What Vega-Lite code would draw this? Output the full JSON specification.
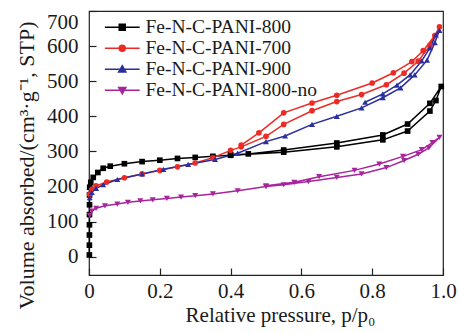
{
  "$schema": "https://vega.github.io/schema/vega-lite/v6.json",
  "width": 354,
  "height": 264,
  "autosize": "none",
  "padding": {"left": 89, "top": 11, "right": 16, "bottom": 58},
  "config": {
    "font": "Liberation Serif",
    "view": {"stroke": "#222222", "strokeWidth": 1.2},
    "axis": {
      "domain": false, "grid": false, "tickSize": -7, "tickColor": "#222222", "tickWidth": 1.2,
      "labelFontSize": 21, "titleFontSize": 21, "titleFontWeight": "normal",
      "labelColor": "#1a1a1a", "titleColor": "#1a1a1a", "labelFont": "Liberation Serif", "titleFont": "Liberation Serif"
    },
    "legend": {"labelFont": "Liberation Serif"}
  },
  "data": {"values": [
    {"s":"Fe-N-C-PANI-800","i":1,"p":0.0010,"v":5},
    {"s":"Fe-N-C-PANI-800","i":2,"p":0.0011,"v":33},
    {"s":"Fe-N-C-PANI-800","i":3,"p":0.0012,"v":62},
    {"s":"Fe-N-C-PANI-800","i":4,"p":0.0013,"v":91},
    {"s":"Fe-N-C-PANI-800","i":5,"p":0.0014,"v":120},
    {"s":"Fe-N-C-PANI-800","i":6,"p":0.0015,"v":148},
    {"s":"Fe-N-C-PANI-800","i":7,"p":0.0016,"v":176},
    {"s":"Fe-N-C-PANI-800","i":8,"p":0.002,"v":198},
    {"s":"Fe-N-C-PANI-800","i":9,"p":0.005,"v":212},
    {"s":"Fe-N-C-PANI-800","i":10,"p":0.012,"v":226},
    {"s":"Fe-N-C-PANI-800","i":11,"p":0.025,"v":240},
    {"s":"Fe-N-C-PANI-800","i":12,"p":0.04,"v":252},
    {"s":"Fe-N-C-PANI-800","i":13,"p":0.06,"v":258},
    {"s":"Fe-N-C-PANI-800","i":14,"p":0.1,"v":265},
    {"s":"Fe-N-C-PANI-800","i":15,"p":0.15,"v":271},
    {"s":"Fe-N-C-PANI-800","i":16,"p":0.2,"v":275},
    {"s":"Fe-N-C-PANI-800","i":17,"p":0.25,"v":280},
    {"s":"Fe-N-C-PANI-800","i":18,"p":0.3,"v":283},
    {"s":"Fe-N-C-PANI-800","i":19,"p":0.35,"v":286},
    {"s":"Fe-N-C-PANI-800","i":20,"p":0.4,"v":289},
    {"s":"Fe-N-C-PANI-800","i":21,"p":0.55,"v":298},
    {"s":"Fe-N-C-PANI-800","i":22,"p":0.7,"v":313},
    {"s":"Fe-N-C-PANI-800","i":23,"p":0.83,"v":333},
    {"s":"Fe-N-C-PANI-800","i":24,"p":0.9,"v":358},
    {"s":"Fe-N-C-PANI-800","i":25,"p":0.963,"v":415},
    {"s":"Fe-N-C-PANI-800","i":26,"p":0.98,"v":445},
    {"s":"Fe-N-C-PANI-800","i":27,"p":0.995,"v":485},
    {"s":"Fe-N-C-PANI-800","i":28,"p":0.963,"v":437},
    {"s":"Fe-N-C-PANI-800","i":29,"p":0.9,"v":378},
    {"s":"Fe-N-C-PANI-800","i":30,"p":0.83,"v":347},
    {"s":"Fe-N-C-PANI-800","i":31,"p":0.7,"v":324},
    {"s":"Fe-N-C-PANI-800","i":32,"p":0.55,"v":304},
    {"s":"Fe-N-C-PANI-800","i":33,"p":0.45,"v":293},
    {"s":"Fe-N-C-PANI-800","i":34,"p":0.4,"v":290},

    {"s":"Fe-N-C-PANI-700","i":1,"p":0.002,"v":178},
    {"s":"Fe-N-C-PANI-700","i":2,"p":0.008,"v":192},
    {"s":"Fe-N-C-PANI-700","i":3,"p":0.02,"v":202},
    {"s":"Fe-N-C-PANI-700","i":4,"p":0.05,"v":213},
    {"s":"Fe-N-C-PANI-700","i":5,"p":0.1,"v":225},
    {"s":"Fe-N-C-PANI-700","i":6,"p":0.15,"v":236},
    {"s":"Fe-N-C-PANI-700","i":7,"p":0.2,"v":246},
    {"s":"Fe-N-C-PANI-700","i":8,"p":0.25,"v":256},
    {"s":"Fe-N-C-PANI-700","i":9,"p":0.3,"v":267},
    {"s":"Fe-N-C-PANI-700","i":10,"p":0.35,"v":282},
    {"s":"Fe-N-C-PANI-700","i":11,"p":0.4,"v":303},
    {"s":"Fe-N-C-PANI-700","i":12,"p":0.43,"v":313},
    {"s":"Fe-N-C-PANI-700","i":13,"p":0.5,"v":343},
    {"s":"Fe-N-C-PANI-700","i":14,"p":0.55,"v":377},
    {"s":"Fe-N-C-PANI-700","i":15,"p":0.63,"v":416},
    {"s":"Fe-N-C-PANI-700","i":16,"p":0.7,"v":442},
    {"s":"Fe-N-C-PANI-700","i":17,"p":0.77,"v":462},
    {"s":"Fe-N-C-PANI-700","i":18,"p":0.84,"v":490},
    {"s":"Fe-N-C-PANI-700","i":19,"p":0.89,"v":523},
    {"s":"Fe-N-C-PANI-700","i":20,"p":0.93,"v":557},
    {"s":"Fe-N-C-PANI-700","i":21,"p":0.963,"v":602},
    {"s":"Fe-N-C-PANI-700","i":22,"p":0.99,"v":655},
    {"s":"Fe-N-C-PANI-700","i":23,"p":0.977,"v":630},
    {"s":"Fe-N-C-PANI-700","i":24,"p":0.944,"v":587},
    {"s":"Fe-N-C-PANI-700","i":25,"p":0.912,"v":556},
    {"s":"Fe-N-C-PANI-700","i":26,"p":0.86,"v":524},
    {"s":"Fe-N-C-PANI-700","i":27,"p":0.8,"v":495},
    {"s":"Fe-N-C-PANI-700","i":28,"p":0.7,"v":460},
    {"s":"Fe-N-C-PANI-700","i":29,"p":0.63,"v":438},
    {"s":"Fe-N-C-PANI-700","i":30,"p":0.55,"v":410},
    {"s":"Fe-N-C-PANI-700","i":31,"p":0.48,"v":353},
    {"s":"Fe-N-C-PANI-700","i":32,"p":0.43,"v":318},

    {"s":"Fe-N-C-PANI-900","i":1,"p":0.002,"v":168},
    {"s":"Fe-N-C-PANI-900","i":2,"p":0.008,"v":183},
    {"s":"Fe-N-C-PANI-900","i":3,"p":0.02,"v":195},
    {"s":"Fe-N-C-PANI-900","i":4,"p":0.04,"v":205},
    {"s":"Fe-N-C-PANI-900","i":5,"p":0.08,"v":220},
    {"s":"Fe-N-C-PANI-900","i":6,"p":0.15,"v":236},
    {"s":"Fe-N-C-PANI-900","i":7,"p":0.21,"v":249},
    {"s":"Fe-N-C-PANI-900","i":8,"p":0.28,"v":263},
    {"s":"Fe-N-C-PANI-900","i":9,"p":0.356,"v":277},
    {"s":"Fe-N-C-PANI-900","i":10,"p":0.42,"v":295},
    {"s":"Fe-N-C-PANI-900","i":11,"p":0.5,"v":328},
    {"s":"Fe-N-C-PANI-900","i":12,"p":0.554,"v":344},
    {"s":"Fe-N-C-PANI-900","i":13,"p":0.63,"v":377},
    {"s":"Fe-N-C-PANI-900","i":14,"p":0.7,"v":400},
    {"s":"Fe-N-C-PANI-900","i":15,"p":0.77,"v":424},
    {"s":"Fe-N-C-PANI-900","i":16,"p":0.83,"v":453},
    {"s":"Fe-N-C-PANI-900","i":17,"p":0.88,"v":481},
    {"s":"Fe-N-C-PANI-900","i":18,"p":0.92,"v":518},
    {"s":"Fe-N-C-PANI-900","i":19,"p":0.955,"v":560},
    {"s":"Fe-N-C-PANI-900","i":20,"p":0.977,"v":610},
    {"s":"Fe-N-C-PANI-900","i":21,"p":0.99,"v":645},
    {"s":"Fe-N-C-PANI-900","i":22,"p":0.98,"v":632},
    {"s":"Fe-N-C-PANI-900","i":23,"p":0.963,"v":595},
    {"s":"Fe-N-C-PANI-900","i":24,"p":0.94,"v":558},
    {"s":"Fe-N-C-PANI-900","i":25,"p":0.907,"v":518},
    {"s":"Fe-N-C-PANI-900","i":26,"p":0.87,"v":489},
    {"s":"Fe-N-C-PANI-900","i":27,"p":0.83,"v":464},
    {"s":"Fe-N-C-PANI-900","i":28,"p":0.78,"v":440},

    {"s":"Fe-N-C-PANI-800-no","i":1,"p":0.002,"v":118},
    {"s":"Fe-N-C-PANI-800-no","i":2,"p":0.008,"v":130},
    {"s":"Fe-N-C-PANI-800-no","i":3,"p":0.02,"v":138},
    {"s":"Fe-N-C-PANI-800-no","i":4,"p":0.045,"v":145},
    {"s":"Fe-N-C-PANI-800-no","i":5,"p":0.08,"v":150},
    {"s":"Fe-N-C-PANI-800-no","i":6,"p":0.11,"v":155},
    {"s":"Fe-N-C-PANI-800-no","i":7,"p":0.145,"v":159},
    {"s":"Fe-N-C-PANI-800-no","i":8,"p":0.18,"v":162},
    {"s":"Fe-N-C-PANI-800-no","i":9,"p":0.22,"v":166},
    {"s":"Fe-N-C-PANI-800-no","i":10,"p":0.26,"v":170},
    {"s":"Fe-N-C-PANI-800-no","i":11,"p":0.3,"v":174},
    {"s":"Fe-N-C-PANI-800-no","i":12,"p":0.35,"v":179},
    {"s":"Fe-N-C-PANI-800-no","i":13,"p":0.42,"v":188},
    {"s":"Fe-N-C-PANI-800-no","i":14,"p":0.5,"v":200},
    {"s":"Fe-N-C-PANI-800-no","i":15,"p":0.55,"v":205},
    {"s":"Fe-N-C-PANI-800-no","i":16,"p":0.62,"v":214},
    {"s":"Fe-N-C-PANI-800-no","i":17,"p":0.7,"v":226},
    {"s":"Fe-N-C-PANI-800-no","i":18,"p":0.77,"v":236},
    {"s":"Fe-N-C-PANI-800-no","i":19,"p":0.84,"v":254},
    {"s":"Fe-N-C-PANI-800-no","i":20,"p":0.89,"v":274},
    {"s":"Fe-N-C-PANI-800-no","i":21,"p":0.93,"v":292},
    {"s":"Fe-N-C-PANI-800-no","i":22,"p":0.96,"v":310},
    {"s":"Fe-N-C-PANI-800-no","i":23,"p":0.99,"v":340},
    {"s":"Fe-N-C-PANI-800-no","i":24,"p":0.97,"v":325},
    {"s":"Fe-N-C-PANI-800-no","i":25,"p":0.94,"v":305},
    {"s":"Fe-N-C-PANI-800-no","i":26,"p":0.887,"v":286},
    {"s":"Fe-N-C-PANI-800-no","i":27,"p":0.82,"v":264},
    {"s":"Fe-N-C-PANI-800-no","i":28,"p":0.75,"v":246},
    {"s":"Fe-N-C-PANI-800-no","i":29,"p":0.65,"v":228},
    {"s":"Fe-N-C-PANI-800-no","i":30,"p":0.58,"v":212},
    {"s":"Fe-N-C-PANI-800-no","i":31,"p":0.5,"v":202}
  ]},
  "encoding": {
    "x": {"field": "p", "type": "quantitative",
      "scale": {"domain": [0, 1], "nice": false, "zero": false},
      "axis": {"title": "Relative pressure, p/p₀", "values": [0, 0.2, 0.4, 0.6, 0.8, 1],
        "labelExpr": "datum.value == 0 ? '0' : format(datum.value, '.1f')",
        "labelPadding": 12, "labelFlush": false,
        "titleX": 191, "titleY": 46, "titleBaseline": "alphabetic"}},
    "y": {"field": "v", "type": "quantitative",
      "scale": {"domain": [-52, 700], "nice": false, "zero": false},
      "axis": {"title": "Volume absorbed/(cm³·g⁻¹, STP)", "values": [0, 100, 200, 300, 400, 500, 600, 700],
        "labelPadding": 18, "titlePadding": 8, "titleFontSize": 22, "labelFlush": 1, "titleY": 154}}
  },
  "layer": [
    {"mark": {"type": "line", "strokeWidth": 1.5},
     "encoding": {
       "order": {"field": "i", "type": "quantitative"},
       "color": {"field": "s", "type": "nominal",
         "scale": {"domain": ["Fe-N-C-PANI-700", "Fe-N-C-PANI-800", "Fe-N-C-PANI-900", "Fe-N-C-PANI-800-no"],
           "range": ["#ec2b25", "#000000", "#2b2f9e", "#a8239e"]}, "legend": null}}},
    {"transform": [{"filter": "datum.s === 'Fe-N-C-PANI-800'"}],
     "mark": {"type": "point", "filled": true, "shape": "square", "size": 32, "opacity": 1, "color": "#000000"},
     "encoding": {}},
    {"transform": [{"filter": "datum.s === 'Fe-N-C-PANI-700'"}],
     "mark": {"type": "point", "filled": true, "shape": "circle", "size": 32, "opacity": 1, "color": "#ec2b25"},
     "encoding": {}},
    {"transform": [{"filter": "datum.s === 'Fe-N-C-PANI-900'"}],
     "mark": {"type": "point", "filled": true, "shape": "triangle-up", "size": 36, "opacity": 1, "color": "#2b2f9e"},
     "encoding": {}},
    {"transform": [{"filter": "datum.s === 'Fe-N-C-PANI-800-no'"}],
     "mark": {"type": "point", "filled": true, "shape": "triangle-down", "size": 36, "opacity": 1, "color": "#a8239e"},
     "encoding": {}},
    {"transform": [{"filter": "datum.i < 0"}],
     "mark": {"type": "point", "filled": true, "opacity": 1, "strokeWidth": 1.5},
     "encoding": {
       "shape": {"field": "s", "type": "nominal",
         "scale": {"domain": ["Fe-N-C-PANI-800", "Fe-N-C-PANI-700", "Fe-N-C-PANI-900", "Fe-N-C-PANI-800-no"],
           "range": ["M-5.8,0H5.8M-1,-1H1V1H-1Z", "M-5.8,0H5.8M1,0A1,1,0,1,1,-1,0A1,1,0,1,1,1,0Z", "M-5.8,0H5.8M0,-1.2L1.2,0.9H-1.2Z", "M-5.8,0H5.8M0,1.2L1.2,-0.9H-1.2Z"]},
         "legend": {"title": null, "orient": "none", "legendX": 23.5, "legendY": 6.5, "direction": "vertical",
           "padding": 0, "labelFontSize": 19.5, "labelColor": "#1a1a1a", "labelOffset": 13.5, "labelLimit": 0,
           "symbolSize": 36, "symbolStrokeWidth": 1.5, "symbolOpacity": 1, "rowPadding": 0}},
       "fill": {"field": "s", "type": "nominal",
         "scale": {"domain": ["Fe-N-C-PANI-800", "Fe-N-C-PANI-700", "Fe-N-C-PANI-900", "Fe-N-C-PANI-800-no"],
           "range": ["#000000", "#ec2b25", "#2b2f9e", "#a8239e"]},
         "legend": {"title": null, "orient": "none", "legendX": 23.5, "legendY": 6.5}},
       "stroke": {"field": "s", "type": "nominal",
         "scale": {"domain": ["Fe-N-C-PANI-800", "Fe-N-C-PANI-700", "Fe-N-C-PANI-900", "Fe-N-C-PANI-800-no"],
           "range": ["#000000", "#ec2b25", "#2b2f9e", "#a8239e"]},
         "legend": {"title": null, "orient": "none", "legendX": 23.5, "legendY": 6.5}}
     }}
  ]
}
